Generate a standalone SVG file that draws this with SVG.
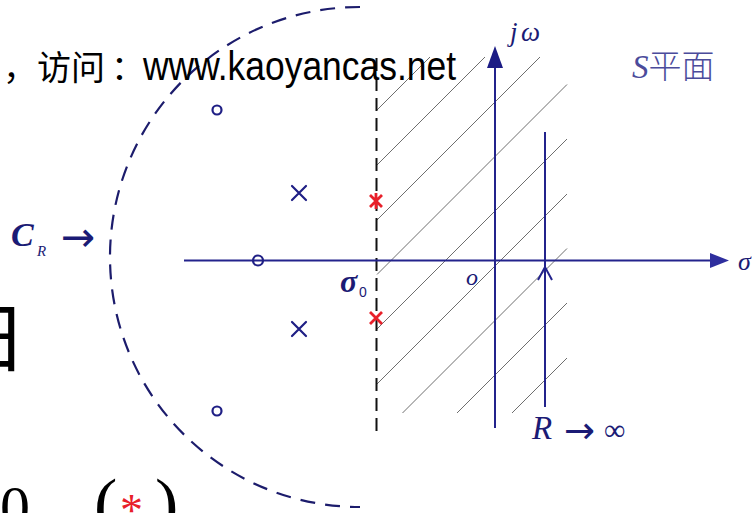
<svg xmlns="http://www.w3.org/2000/svg" width="752" height="513" viewBox="0 0 752 513">
<style>
.hatch{stroke:#6e6e6e;stroke-width:1;fill:none}
.axis{stroke:#23238c;stroke-width:2;fill:none}
.mk{stroke:#1f1f85;stroke-width:2.2;fill:none;stroke-linecap:round}
.red{stroke:#e8202a;stroke-width:2.8;fill:none}
.lbl{font-family:"Liberation Serif","DejaVu Serif",serif;fill:#1b1b75}
.arr{font-family:"DejaVu Sans",sans-serif;fill:#1b1b75}
.it{font-style:italic}
</style>
<rect width="752" height="513" fill="#fff"/>
<g id="background-text">
<text x="-49" y="366" font-family="Noto Sans CJK SC" font-size="76" fill="#000">日</text>
<text x="0" y="527" font-family="Liberation Serif" font-size="60" fill="#000">0</text>
<text x="94" y="527" font-family="Liberation Serif" font-size="70" fill="#000">(</text>
<text x="120" y="526" font-family="Liberation Serif" font-size="46" fill="#e8202a">*</text>
<text x="155" y="527" font-family="Liberation Serif" font-size="70" fill="#000">)</text>
</g>
<g id="hatching">
<line class="hatch" x1="377" y1="110" x2="430" y2="57"/>
<line class="hatch" x1="377" y1="165" x2="485" y2="57"/>
<line class="hatch" x1="377" y1="220" x2="540" y2="57"/>
<line class="hatch" x1="377" y1="274.5" x2="567" y2="84.5"/>
<line class="hatch" x1="377" y1="329" x2="567" y2="139"/>
<line class="hatch" x1="377" y1="384" x2="567" y2="194"/>
<line class="hatch" x1="402.5" y1="413" x2="567" y2="248.5"/>
<line class="hatch" x1="457" y1="413" x2="567" y2="303"/>
<line class="hatch" x1="512" y1="413" x2="567" y2="358"/>
</g>
<g id="contour">
<path d="M360,7 A250,250 0 0 0 360,507" fill="none" stroke="#1c1c6c" stroke-width="2.2" stroke-dasharray="15,10"/>
<line x1="376.5" y1="58" x2="376.5" y2="435" stroke="#111" stroke-width="2" stroke-dasharray="13,7"/>
</g>
<g id="axes">
<line class="axis" x1="184" y1="260.5" x2="712" y2="260.5"/>
<polygon points="710,253 729,260.5 710,268" fill="#2e2e9e"/>
<line class="axis" x1="495" y1="428" x2="495" y2="64"/>
<polygon points="487,68 495,46 503,68" fill="#1c1c85"/>
<line class="axis" x1="545" y1="132" x2="545" y2="407"/>
<polyline class="axis" points="538,280 545,267 552,280"/>
</g>
<g id="poles-zeros">
<circle class="mk" cx="217" cy="110" r="4.5"/>
<circle class="mk" cx="217" cy="411" r="4.5"/>
<circle class="mk" cx="258" cy="260.5" r="5" fill="#fff"/>
<path class="mk" d="M292,186 L306,200 M306,186 L292,200"/>
<path class="mk" d="M292,322 L306,336 M306,322 L292,336"/>
<path class="red" d="M370,195 L382,207 M382,195 L370,207 M376,193 L376,209"/>
<path class="red" d="M370,312 L382,324 M382,312 L370,324"/>
</g>
<g id="labels">
<text class="lbl it" y="41" font-size="27" fill="#2a2a95"><tspan x="510">j</tspan><tspan x="521">ω</tspan></text>
<text x="632" y="78" font-size="33" fill="#4b4b9b"><tspan font-family="Liberation Serif" font-style="italic">S</tspan><tspan font-family="Noto Sans CJK SC" font-weight="300">平面</tspan></text>
<text class="lbl it" x="738" y="270" font-size="26" fill="#3030a0">σ</text>
<text class="lbl it" x="466" y="285" font-size="24" fill="#2a2a95">o</text>
<text class="lbl it" x="340" y="292" font-size="32" font-weight="bold">σ</text>
<text x="359" y="297" font-family="Liberation Sans" font-size="14" fill="#1b1b75">0</text>
<text class="lbl it" x="11" y="246" font-size="34" font-weight="bold">C</text>
<text class="lbl it" x="37" y="256" font-size="15">R</text>
<text class="arr" x="61" y="251" font-size="41">→</text>
<text class="lbl it" x="532" y="439" font-size="33">R</text>
<text class="arr" x="564" y="443" font-size="37">→</text>
<text class="lbl" x="604" y="440" font-size="30">∞</text>
</g>
<g id="watermark">
<text x="3" y="80" font-family="Noto Sans CJK SC" font-size="34" fill="#000">，访问</text>
<text x="111" y="80" font-family="Noto Sans CJK SC" font-size="34" fill="#000">：</text>
<text x="143" y="80" font-family="Liberation Sans" font-size="41" fill="#000" textLength="313" lengthAdjust="spacingAndGlyphs">www.kaoyancas.net</text>
</g>
</svg>
